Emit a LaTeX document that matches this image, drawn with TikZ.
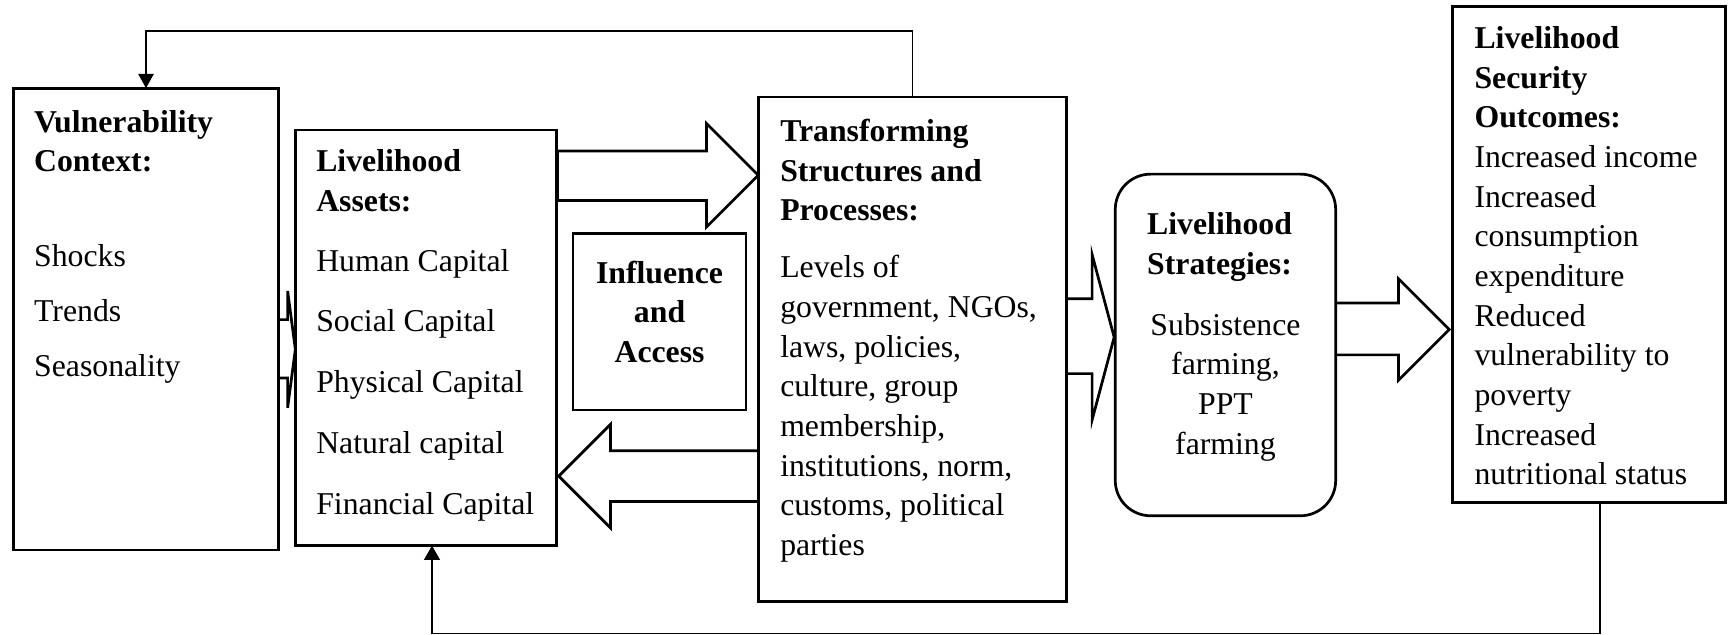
\documentclass[tikz,border=0pt]{standalone}
\usepackage{fontspec}
\setmainfont{Liberation Serif}
\usetikzlibrary{arrows.meta}
\begin{document}
\begin{tikzpicture}[x=0.1mm,y=-0.1mm,
  box/.style={draw,line width=0.7pt,inner sep=0pt,outer sep=0pt},
  txt/.style={inner sep=0pt,outer sep=0pt,font=\fontsize{8.2}{10.24}\selectfont},
  blockarrow/.style={draw,line width=0.7pt,line join=miter},
  fb/.style={line width=0.35pt},
  fbarrow/.style={-{Triangle[length=1.3mm,width=1.4mm]}}
]
\useasboundingbox (0,0) rectangle (1568,576);

% boxes
\node[box,minimum width=24.1mm,minimum height=41.9mm] (vuln) at (132.5,289.5) {};
\node[box,minimum width=23.7mm,minimum height=37.7mm] (assets) at (386.5,306.5) {};
\node[box,minimum width=15.7mm,minimum height=16mm] (infl) at (598.5,292) {};
\node[box,minimum width=28mm,minimum height=45.8mm] (trans) at (828,317) {};
\node[box,rounded corners=3.2mm,minimum width=20mm,minimum height=31mm] (strat) at (1112,313) {};
\node[box,minimum width=24.8mm,minimum height=45mm] (outc) at (1442,231) {};

% texts
\node[txt,align=left,anchor=north west] (vuln-t) at (31,100)
 {\textbf{Vulnerability}\\\textbf{Context:}\\[14.2pt]Shocks\\[4pt]Trends\\[4pt]Seasonality};
\node[txt,align=left,anchor=north west] (assets-t) at (287,136)
 {\textbf{Livelihood}\\\textbf{Assets:}\\[5.1pt]Human Capital\\[5.5pt]Social Capital\\[5.5pt]Physical Capital\\[5.5pt]Natural capital\\[5.5pt]Financial Capital};
\node[txt,align=center,font=\fontsize{8.2}{10.24}\selectfont\bfseries] (infl-t) at (598.5,283)
 {Influence\\and\\Access};
\node[txt,align=left,anchor=north west] (trans-t) at (708,108)
 {\textbf{Transforming}\\\textbf{Structures and}\\\textbf{Processes:}\\[4.5pt]Levels of\\government, NGOs,\\laws, policies,\\culture, group\\membership,\\institutions, norm,\\customs, political\\parties};
\node[txt,align=left,anchor=north west] (strat-h) at (1041,193)
 {\textbf{Livelihood}\\\textbf{Strategies:}};
\node[txt,align=center,anchor=north] (strat-t) at (1112,284)
 {Subsistence\\farming,\\PPT\\farming};
\node[txt,align=left,anchor=north west] (outc-t) at (1338,24)
 {\textbf{Livelihood}\\\textbf{Security}\\\textbf{Outcomes:}\\Increased income\\Increased\\consumption\\expenditure\\Reduced\\vulnerability to\\poverty\\Increased\\nutritional status};

% block arrows
\draw[blockarrow] (253,290) -- (261,290) -- (261,264) -- (268,317) -- (261,370) -- (261,343) -- (253,343);
\draw[blockarrow] (506,137) -- (641,137) -- (641,112) -- (688,159) -- (641,206) -- (641,182) -- (506,182) -- cycle;
\draw[blockarrow] (688,409) -- (554,409) -- (554,385) -- (507,432) -- (554,479) -- (554,455) -- (688,455);
\draw[blockarrow] (968,271) -- (991,271) -- (991,231) -- (1011,306) -- (991,381) -- (991,339) -- (968,339);
\draw[blockarrow] (1212,275) -- (1269,275) -- (1269,253) -- (1315,299) -- (1269,345) -- (1269,322) -- (1212,322);

% feedback connectors
\draw[fb,fbarrow] (trans.north) -- ++(0,-60) -| (vuln.north);
\coordinate (c1) at (1452,0);
\coordinate (c2) at (392,0);
\coordinate (fb2) at (392,575);
\draw[fb] (outc.south -| c1) |- (fb2);
\draw[line width=0.7pt,fbarrow] (fb2) -- (assets.south -| c2);
\end{tikzpicture}
\end{document}
